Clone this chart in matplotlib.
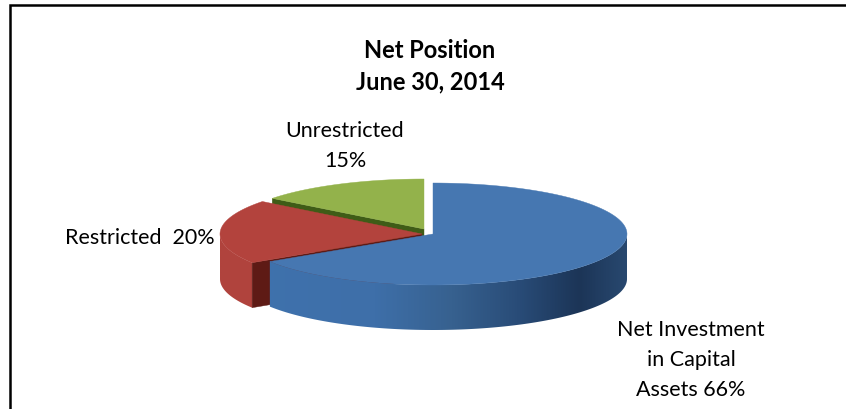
import matplotlib
matplotlib.use('Agg')
import matplotlib.pyplot as plt
import numpy as np
from matplotlib.colors import LinearSegmentedColormap
from matplotlib.patches import Polygon

plt.rcParams['font.family'] = ['Lato', 'DejaVu Sans']

# shares in percent (clockwise from 12 o'clock)
categories = ['Net Investment\nin Capital\nAssets 66%', 'Restricted  20%', 'Unrestricted\n15%']
shares = [65.9, 19.6, 14.5]
title_lines = 'Net Position\nJune 30, 2014'

W, H = 846, 410
DEPTH = 45


def arc(cx, cy, rx, ry, a0, a1, n=120):
    t = np.radians(np.linspace(a0, a1, n))
    return np.column_stack([cx + rx * np.sin(t), cy - ry * np.cos(t)])


def side_wall(ax, cx, cy, rx, ry, a0, a1, cmap, z):
    # gradient image clipped to the outer wall of the slice
    a0 = max(a0, 90)
    a1 = min(a1, 270)
    pts = arc(cx, cy, rx, ry, a0, a1, 200)
    wall = np.vstack([pts, pts[::-1] + [0, DEPTH]])
    grad = np.linspace(0, 1, 400).reshape(1, -1)
    im = ax.imshow(grad, cmap=cmap, vmin=0, vmax=1, aspect='auto', interpolation='bilinear',
                   extent=(cx - rx, cx + rx, cy + ry + DEPTH, cy), zorder=z)
    clip = Polygon(wall, transform=ax.transData, fc='none', ec='none')
    ax.add_patch(clip)
    im.set_clip_path(clip)


def cut_face(ax, cx, cy, rx, ry, a, color, z):
    t = np.radians(a)
    e = np.array([cx + rx * np.sin(t), cy - ry * np.cos(t)])
    c = np.array([cx, cy])
    ax.add_patch(Polygon([e, c, c + [0, DEPTH], e + [0, DEPTH]], fc=color, ec=color, lw=0.3, zorder=z))


def top(ax, cx, cy, rx, ry, a0, a1, color, z):
    pts = np.vstack([[cx, cy], arc(cx, cy, rx, ry, a0, a1)])
    ax.add_patch(Polygon(pts, fc=color, ec=color, lw=0.3, zorder=z))


fig = plt.figure(figsize=(W / 100, H / 100), dpi=100)
ax = fig.add_axes([0, 0, 1, 1])

# chart border, only left and top are inside the crop
ax.plot([10.3, 10.3, W], [H, 6, 6], color='black', lw=1.8, solid_joinstyle='miter')

edges = np.cumsum([0] + shares) / sum(shares) * 360

blue_cmap = LinearSegmentedColormap.from_list('b', [(0, '#3f72ad'), (0.35, '#3e6fa9'), (0.55, '#37618f'),
                                                    (0.72, '#294c78'), (0.88, '#1c3557'), (1, '#28486f')])
red_cmap = LinearSegmentedColormap.from_list('r', ['#b0433d', '#b5453f'])

green_c = (424, 230, 192, 50)
red_c = (422, 235, 202, 53)
blue_c = (433, 235, 194, 51)

# green sits behind everything else
cut_face(ax, *green_c, edges[2], '#3f5c17', 2)
top(ax, *green_c, edges[2], edges[3], '#93b24b', 3)

side_wall(ax, *red_c, edges[1], edges[2], red_cmap, 4)
cut_face(ax, *red_c, edges[1], '#5e1a15', 5)
top(ax, *red_c, edges[1], edges[2], '#b3433d', 6)

side_wall(ax, *blue_c, edges[0], edges[1], blue_cmap, 7)
top(ax, *blue_c, edges[0], edges[1], '#4677b1', 8)

ax.set_xlim(0, W)
ax.set_ylim(H, 0)
ax.axis('off')

ax.text(430, 66, title_lines, ha='center', va='center', fontsize=17, fontweight='bold', linespacing=1.46, color='black')
ax.text(691, 360, categories[0], ha='center', va='center', fontsize=15.5, linespacing=1.6, color='black')
ax.text(140, 238, categories[1], ha='center', va='center', fontsize=15.5, color='black')
ax.text(345, 146, categories[2], ha='center', va='center', fontsize=15.5, linespacing=1.6, color='black')

fig.savefig('out.png', dpi=100)
